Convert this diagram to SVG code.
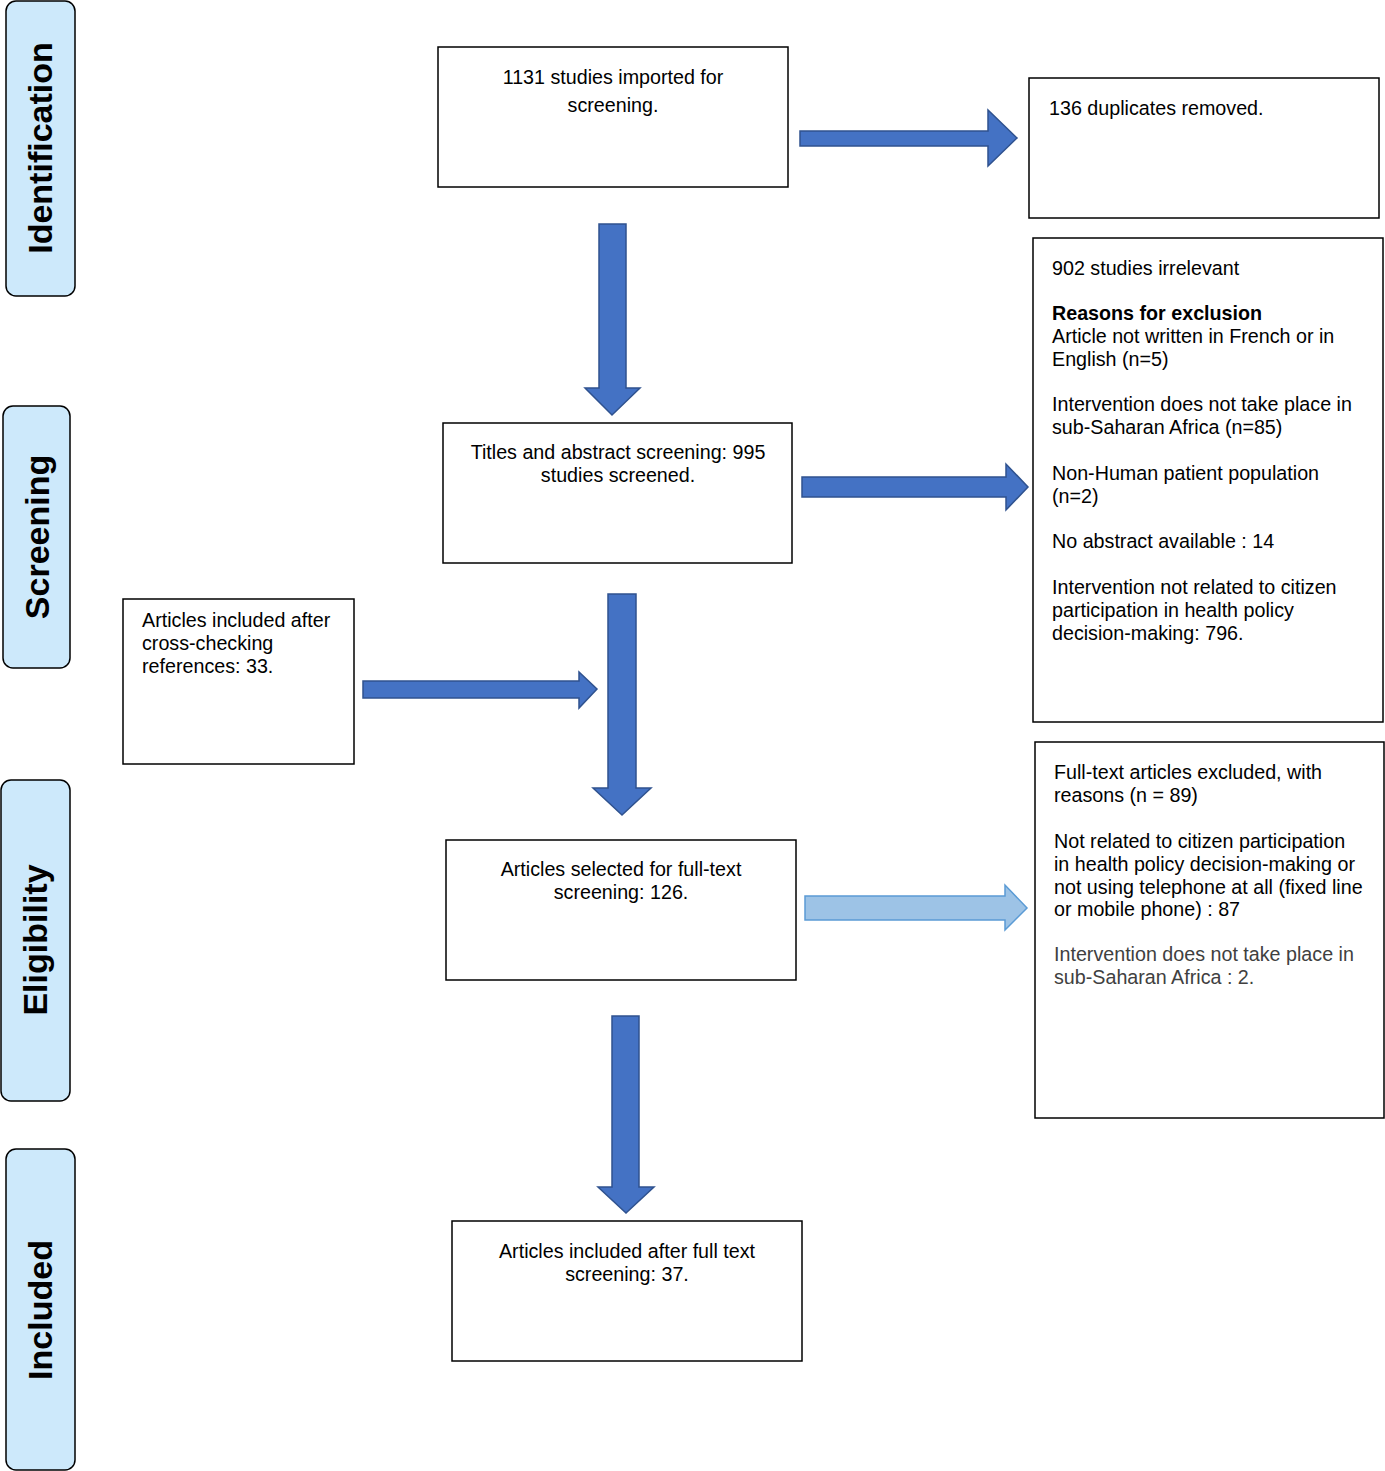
<svg xmlns="http://www.w3.org/2000/svg" width="1385" height="1471" viewBox="0 0 1385 1471">
<style>
.bg{fill:#ffffff}
.box{fill:#ffffff;stroke:#000000;stroke-width:1.5}
.side{fill:#cde9fb;stroke:#000000;stroke-width:1.5}
.t{font-family:"Liberation Sans",Arial,sans-serif;font-size:19.7px;fill:#000000}
.c{text-anchor:middle}
.b{font-weight:bold}
.g{fill:#404040}
.st{font-family:"Liberation Sans",Arial,sans-serif;font-size:34px;font-weight:bold;fill:#000000;text-anchor:middle}
.arr{fill:#4472c4;stroke:#2f528f;stroke-width:1.5}
.arrl{fill:#9dc3e6;stroke:#5b9bd5;stroke-width:1.5}
</style>
<rect class="bg" x="0" y="0" width="1385" height="1471"/>
<g id="side-identification">
<rect class="side" x="6" y="1" width="69" height="295" rx="10"/>
<text class="st" transform="translate(52,148) rotate(-90)">Identification</text>
</g>
<g id="side-screening">
<rect class="side" x="3" y="406" width="67" height="262" rx="10"/>
<text class="st" transform="translate(49,537) rotate(-90)">Screening</text>
</g>
<g id="side-eligibility">
<rect class="side" x="1" y="780" width="69" height="321" rx="10"/>
<text class="st" transform="translate(47,940) rotate(-90)">Eligibility</text>
</g>
<g id="side-included">
<rect class="side" x="6" y="1149" width="69" height="321" rx="10"/>
<text class="st" transform="translate(52,1310) rotate(-90)">Included</text>
</g>
<g id="connectors">
<polygon class="arr" points="800,131 988,131 988,110 1017,138 988,166 988,146 800,146"/>
<polygon class="arr" points="599,224 626,224 626,388 640,388 612,415 585,388 599,388"/>
<polygon class="arr" points="802,477 1006,477 1006,464 1028,487 1006,510 1006,497 802,497"/>
<polygon class="arr" points="608,594 636,594 636,788 651,788 622,815 593,788 608,788"/>
<polygon class="arr" points="363,681 579,681 579,672 597,689 579,708 579,698 363,698"/>
<polygon class="arrl" points="805,896 1005,896 1005,885 1027,908 1005,930 1005,920 805,920"/>
<polygon class="arr" points="612,1016 639,1016 639,1187 654,1187 626,1213 598,1187 612,1187"/>
</g>
<g id="node-imported">
<rect class="box" x="438" y="47" width="350" height="140"/>
<text class="t c" x="613" y="84">1131 studies imported for</text>
<text class="t c" x="613" y="112">screening.</text>
</g>
<g id="node-duplicates">
<rect class="box" x="1029" y="78" width="350" height="140"/>
<text class="t" x="1049" y="115">136 duplicates removed.</text>
</g>
<g id="node-irrelevant">
<rect class="box" x="1033" y="238" width="350" height="484"/>
<text class="t" x="1052" y="275">902 studies irrelevant</text>
<text class="t b" x="1052" y="320">Reasons for exclusion</text>
<text class="t" x="1052" y="343">Article not written in French or in</text>
<text class="t" x="1052" y="366">English (n=5)</text>
<text class="t" x="1052" y="411">Intervention does not take place in</text>
<text class="t" x="1052" y="434">sub-Saharan Africa (n=85)</text>
<text class="t" x="1052" y="480">Non-Human patient population</text>
<text class="t" x="1052" y="503">(n=2)</text>
<text class="t" x="1052" y="548">No abstract available : 14</text>
<text class="t" x="1052" y="594">Intervention not related to citizen</text>
<text class="t" x="1052" y="617">participation in health policy</text>
<text class="t" x="1052" y="640">decision-making: 796.</text>
</g>
<g id="node-screening">
<rect class="box" x="443" y="423" width="349" height="140"/>
<text class="t c" x="618" y="459">Titles and abstract screening: 995</text>
<text class="t c" x="618" y="482">studies screened.</text>
</g>
<g id="node-crosscheck">
<rect class="box" x="123" y="599" width="231" height="165"/>
<text class="t" x="142" y="627">Articles included after</text>
<text class="t" x="142" y="650">cross-checking</text>
<text class="t" x="142" y="673">references: 33.</text>
</g>
<g id="node-fulltext">
<rect class="box" x="446" y="840" width="350" height="140"/>
<text class="t c" x="621" y="876">Articles selected for full-text</text>
<text class="t c" x="621" y="899">screening: 126.</text>
</g>
<g id="node-excluded">
<rect class="box" x="1035" y="742" width="349" height="376"/>
<text class="t" x="1054" y="779">Full-text articles excluded, with</text>
<text class="t" x="1054" y="802">reasons (n = 89)</text>
<text class="t" x="1054" y="848">Not related to citizen participation</text>
<text class="t" x="1054" y="871">in health policy decision-making or</text>
<text class="t" x="1054" y="894">not using telephone at all (fixed line</text>
<text class="t" x="1054" y="916">or mobile phone) : 87</text>
<text class="t g" x="1054" y="961">Intervention does not take place in</text>
<text class="t g" x="1054" y="984">sub-Saharan Africa : 2.</text>
</g>
<g id="node-included">
<rect class="box" x="452" y="1221" width="350" height="140"/>
<text class="t c" x="627" y="1258">Articles included after full text</text>
<text class="t c" x="627" y="1281">screening: 37.</text>
</g>
</svg>
